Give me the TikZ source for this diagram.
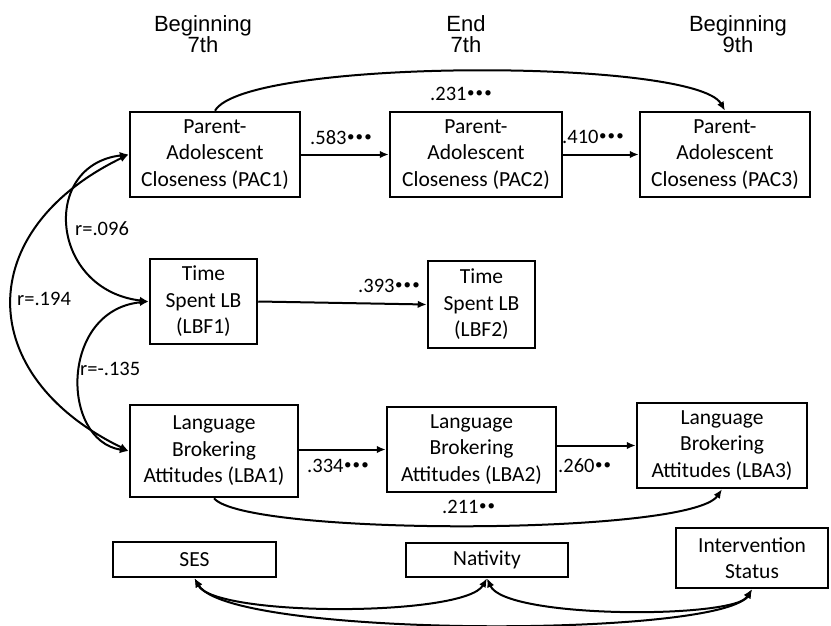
\documentclass[tikz,border=0pt]{standalone}
\usepackage{fontspec}
\setmainfont{Carlito}
\newfontfamily\hdrfont{Liberation Sans}
\usetikzlibrary{arrows.meta}
\newcommand\sigdot{\raisebox{3pt}{\fontsize{15}{15}\selectfont•}}
\newcommand\sigthree{\kern0.5pt\sigdot\kern1.2pt\sigdot\kern1.2pt\sigdot}
\newcommand\sigtwo{\kern0.5pt\sigdot\kern1.2pt\sigdot}
\begin{document}
\begin{tikzpicture}[x=1pt,y=-1pt,
 box/.style={draw, line width=2.5pt, inner sep=0pt, align=center, font=\fontsize{21.5}{26.5}\selectfont},
 hdr/.style={align=center, inner sep=0pt, anchor=north, font=\hdrfont\fontsize{22}{21.5}\selectfont},
 lbl/.style={inner sep=0pt, anchor=base west, font=\fontsize{20.5}{24}\selectfont},
 conn/.style={line width=2pt, -{Latex[length=9pt,width=7.5pt]}},
 cov/.style={line width=2pt, {Latex[length=9pt,width=7.5pt]}-{Latex[length=9pt,width=7.5pt]}},
]
\fill[white] (0,0) rectangle (831,626);
\useasboundingbox (0,0) rectangle (831,626);
% headers
\node[hdr] (h1) at (203,15) {Beginning\\7th};
\node[hdr] (h2) at (466,15) {End\\7th};
\node[hdr] (h3) at (738,15) {Beginning\\9th};
% boxes
\node[box, minimum width=170pt, minimum height=85pt] (PAC1) at (215,154.5) {Parent-\\Adolescent\\Closeness (PAC1)};
\node[box, minimum width=172pt, minimum height=85pt] (PAC2) at (476,154.5) {Parent-\\Adolescent\\Closeness (PAC2)};
\node[box, minimum width=170pt, minimum height=85pt] (PAC3) at (725,154.5) {Parent-\\Adolescent\\Closeness (PAC3)};
\node[box, minimum width=107pt, minimum height=85pt] (LBF1) at (203.5,301.5) {Time\\Spent LB\\(LBF1)};
\node[box, minimum width=107pt, minimum height=87pt] (LBF2) at (481.5,304.5) {Time\\Spent LB\\(LBF2)};
\node[box, minimum width=168pt, minimum height=92pt] (LBA1) at (214,451) {Language\\Brokering\\Attitudes (LBA1)};
\node[box, minimum width=169pt, minimum height=85pt] (LBA2) at (471.5,449.5) {Language\\Brokering\\Attitudes (LBA2)};
\node[box, minimum width=170pt, minimum height=85pt] (LBA3) at (722,445.5) {Language\\Brokering\\Attitudes (LBA3)};
\node[box, minimum width=163pt, minimum height=35pt] (SES) at (194.5,559.5) {SES};
\node[box, minimum width=162pt, minimum height=34pt] (NAT) at (487,560) {Nativity};
\node[box, minimum width=152pt, minimum height=60pt] (INT) at (752,558) {Intervention\\Status};
% paths
\draw[conn] (PAC1.east) -- (PAC2.west);
\draw[conn] (PAC2.east) -- (PAC3.west);
\draw[conn] (PAC1.north) .. controls (245,58) and (695,58) .. (PAC3.north);
\draw[conn] (LBF1.east) -- (LBF2.west);
\draw[conn] (LBA1.east |- LBA2.west) -- (LBA2.west);
\draw[conn] (LBA2.east |- LBA3.west) -- (LBA3.west);
\draw[conn] (LBA1.south) .. controls (245,536) and (690,536) .. (LBA3.south);
% left covariances
\draw[cov] (PAC1.west) .. controls (40,165) and (50,290) .. (LBF1.west);
\draw[cov] (LBF1.west) .. controls (60,310) and (60,440) .. (LBA1.west);
\draw[cov] (PAC1.west) .. controls (-27,230) and (-27,375) .. (LBA1.west);
% bottom covariances
\draw[cov] (SES.south) .. controls (215,617) and (465,617) .. (NAT.south);
\draw[cov] (NAT.south) .. controls (505,619) and (735,619) .. (INT.south);
\draw[cov] (SES.south) .. controls (230,638) and (720,638) .. (INT.south);
% labels
\node[lbl] (l583) at (310,145) {.583\sigthree};
\node[lbl] (l410) at (562,143) {.410\sigthree};
\node[lbl] (l231) at (430,101) {.231\sigthree};
\node[lbl] (l393) at (358,292) {.393\sigthree};
\node[lbl] (l334) at (307,472) {.334\sigthree};
\node[lbl] (l260) at (558,472) {.260\sigtwo};
\node[lbl] (l211) at (442,513) {.211\sigtwo};
\node[lbl] (r1) at (75,235) {r=.096};
\node[lbl] (r2) at (17,305) {r=.194};
\node[lbl] (r3) at (80,375) {r=-.135};
\end{tikzpicture}
\end{document}
